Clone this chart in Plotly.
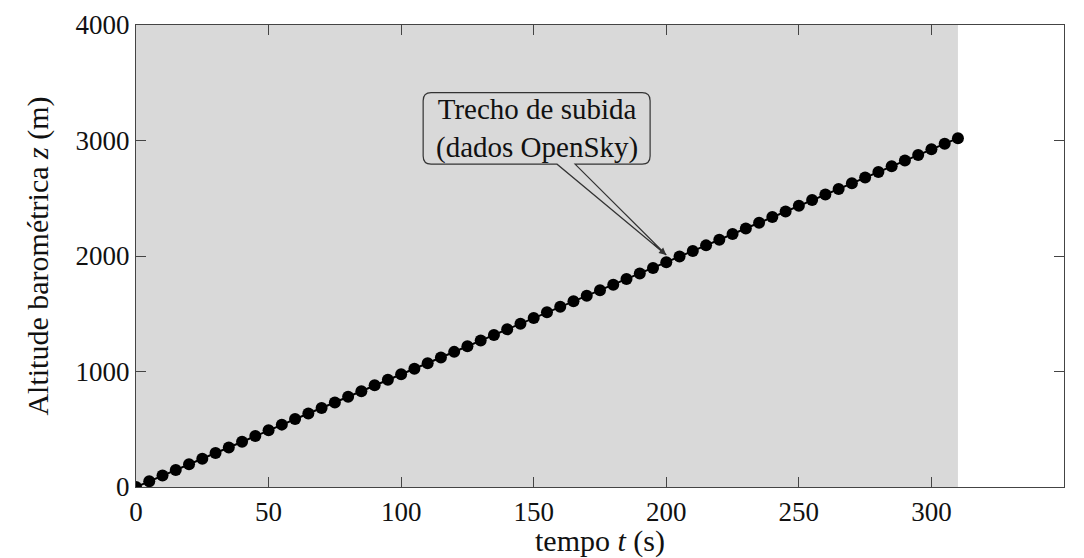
import plotly.graph_objects as go

# time (s) and barometric altitude (m)
tempo_s = [0, 5, 10, 15, 20, 25, 30, 35, 40, 45, 50, 55, 60, 65, 70, 75, 80, 85, 90, 95,
           100, 105, 110, 115, 120, 125, 130, 135, 140, 145, 150, 155, 160, 165, 170, 175,
           180, 185, 190, 195, 200, 205, 210, 215, 220, 225, 230, 235, 240, 245, 250, 255,
           260, 265, 270, 275, 280, 285, 290, 295, 300, 305, 310]
altitude_m = [0, 50, 99, 148, 196, 245, 294, 342, 392, 442, 492, 540, 588, 636, 684, 732,
              781, 830, 880, 928, 976, 1024, 1072, 1121, 1170, 1219, 1268, 1316, 1365, 1414,
              1463, 1512, 1560, 1608, 1656, 1704, 1752, 1800, 1848, 1897, 1946, 1995, 2044,
              2092, 2141, 2190, 2239, 2288, 2337, 2386, 2435, 2484, 2532, 2581, 2630, 2679,
              2728, 2777, 2826, 2875, 2924, 2972, 3020]

x_ticks = [0, 50, 100, 150, 200, 250, 300, 350]
y_ticks = [0, 1000, 2000, 3000, 4000]

annot_text = "Trecho de subida<br>(dados OpenSky)"
annot_target = (200, 2009)

GRAY = "#d9d9d9"
AX = "#444444"
FONT = "Liberation Serif"

fig = go.Figure()

fig.add_trace(go.Scatter(
    x=tempo_s, y=altitude_m, mode="lines+markers",
    line=dict(color="black", width=2),
    marker=dict(color="black", size=12),
    showlegend=False, hoverinfo="skip",
))

# shaded background region covering the data span
fig.add_shape(type="rect", xref="x", yref="y", x0=0, x1=tempo_s[-1], y0=0, y1=4000,
              fillcolor=GRAY, line=dict(width=0), layer="below")

# callout box with rounded corners and wedge
x0, x1, yb, yt = 108.3, 193.9, 2795, 3415
rx, ry = 3.0, 70.0
xa, xb = 158.8, 165.6
tx, ty = annot_target
path = (f"M {x0+rx},{yt} L {x1-rx},{yt} Q {x1},{yt} {x1},{yt-ry} "
        f"L {x1},{yb+ry} Q {x1},{yb} {x1-rx},{yb} L {xb},{yb} L {tx},{ty} "
        f"L {xa},{yb} L {x0+rx},{yb} Q {x0},{yb} {x0},{yb+ry} "
        f"L {x0},{yt-ry} Q {x0},{yt} {x0+rx},{yt} Z")
fig.add_shape(type="path", xref="x", yref="y", path=path,
              fillcolor=GRAY, line=dict(color="#333333", width=1.2), layer="above")

fig.add_annotation(x=(x0 + x1) / 2, y=(yb + yt) / 2, xref="x", yref="y",
                   text=annot_text, showarrow=False,
                   font=dict(family=FONT, size=29, color="#111111"), align="center")
fig.add_annotation(x=tx, y=ty, xref="x", yref="y", text="", showarrow=True,
                   ax=-14, ay=-12, arrowhead=2, arrowsize=1.2, arrowwidth=1.2,
                   arrowcolor="#333333")

axis_common = dict(
    showgrid=False, zeroline=False, showline=True, linecolor=AX, linewidth=1.2,
    mirror="ticks", ticks="inside", ticklen=10, tickcolor=AX, tickwidth=1.2,
    tickfont=dict(family=FONT, size=27, color="#111111"),
)

fig.update_xaxes(range=[0, 350], tickvals=x_ticks, ticktext=[str(v) for v in x_ticks],
                 title=dict(text="tempo <i>t</i> (s)", font=dict(family=FONT, size=30, color="#111111"),
                            standoff=4),
                 **axis_common)
fig.update_yaxes(range=[0, 4000], tickvals=y_ticks, ticktext=[str(v) for v in y_ticks],
                 title=dict(text="Altitude barométrica <i>z</i> (m)",
                            font=dict(family=FONT, size=30, color="#111111"), standoff=18),
                 **axis_common)

fig.update_layout(
    width=1084, height=558,
    margin=dict(l=136, r=20, t=25, b=71, autoexpand=False),
    paper_bgcolor="white", plot_bgcolor="white",
)

fig.write_html("out.html", config={"displayModeBar": False},
               post_script="document.body.style.margin='0';document.body.style.overflow='hidden';")
